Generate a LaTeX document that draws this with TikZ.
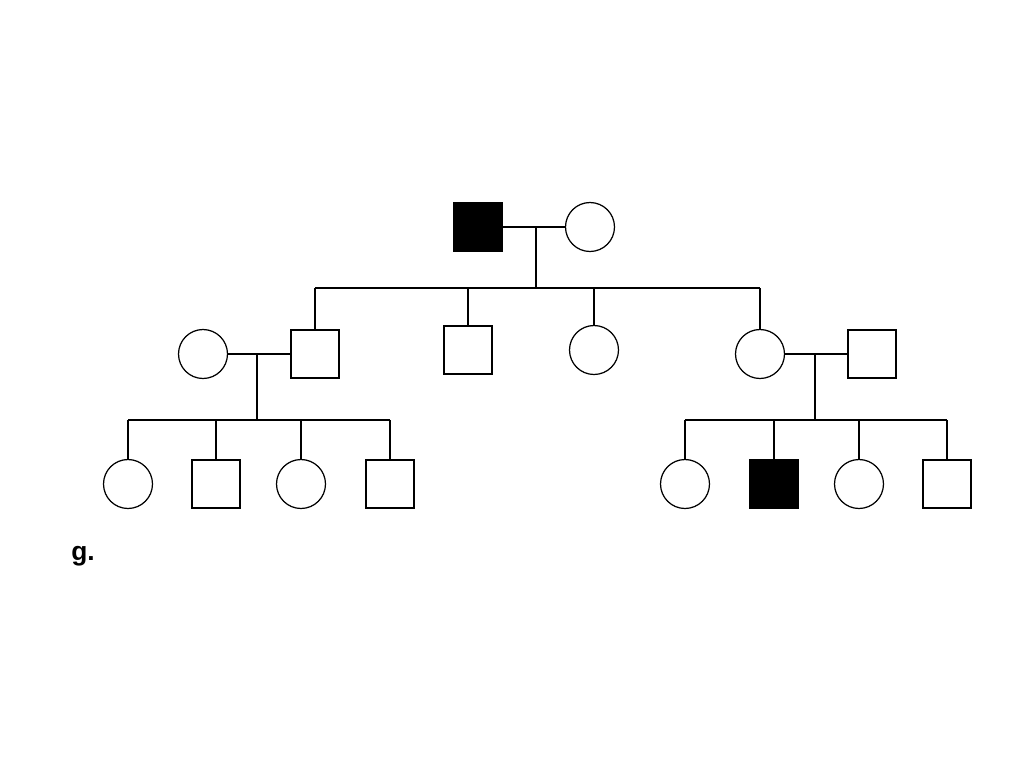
\documentclass[tikz,border=0pt]{standalone}
\usepackage{fontspec}
\newfontfamily\labelfont{Liberation Sans}
\usetikzlibrary{positioning}
\tikzset{
        male/.style={draw, rectangle, line width=0.7pt, minimum size=0.96cm, inner sep=0pt},
        female/.style={draw, circle, line width=0.7pt, minimum size=0.98cm, inner sep=0pt},
        affected/.style={fill=black},
        mating/.style={line width=1.4pt},
        sibship/.style={line width=1.4pt},
        descent/.style={line width=0.8pt},
}

\begin{document}
\begin{tikzpicture}[x=0.02cm, y=-0.02cm]
      \useasboundingbox (0,0) rectangle (1024,768);
      % GENERATION I
      \node[male, affected] (I1) at (478,227) {};
      \node[female] (I2) at (590,227) {};
      \coordinate (m1) at (536,226);
      \coordinate (s1) at (536,288);

      % GENERATION II
      \node[female] (II1) at (203,354) {};
      \node[male] (II2) at (315,354) {};
      \node[male] (II3) at (468,350) {};
      \node[female] (II4) at (594,350) {};
      \node[female] (II5) at (760,354) {};
      \node[male] (II6) at (872,354) {};
      \coordinate (m2) at (257,354);
      \coordinate (s2) at (257,420);
      \coordinate (m3) at (815,354);
      \coordinate (s3) at (815,420);

      % GENERATION III
      \node[female] (III1) at (128,484) {};
      \node[male] (III2) at (216,484) {};
      \node[female] (III3) at (301,484) {};
      \node[male] (III4) at (390,484) {};
      \node[female] (III5) at (685,484) {};
      \node[male, affected] (III6) at (774,484) {};
      \node[female] (III7) at (859,484) {};
      \node[male] (III8) at (947,484) {};

      % LINES
      % I to II
      \draw[mating] (I1.east) -- (I2.west);
      \draw[descent] (m1) -- (s1);
      \draw[sibship] (II2.north |- s1) -- (II5.north |- s1);
      \foreach \n in {II2, II3, II4, II5}
        \draw[descent] (\n.north |- s1) -- (\n.north);
      % II to III, left
      \draw[mating] (II1.east) -- (II2.west);
      \draw[descent] (m2) -- (s2);
      \draw[sibship] (III1.north |- s2) -- (III4.north |- s2);
      \foreach \n in {III1, III2, III3, III4}
        \draw[descent] (\n.north |- s2) -- (\n.north);
      % II to III, right
      \draw[mating] (II5.east) -- (II6.west);
      \draw[descent] (m3) -- (s3);
      \draw[sibship] (III5.north |- s3) -- (III8.north |- s3);
      \foreach \n in {III5, III6, III7, III8}
        \draw[descent] (\n.north |- s3) -- (\n.north);

      \node[anchor=base west, inner sep=0pt, font=\labelfont\bfseries\fontsize{15}{17}\selectfont] (caption) at (71,560) {g.};
\end{tikzpicture}
\end{document}
